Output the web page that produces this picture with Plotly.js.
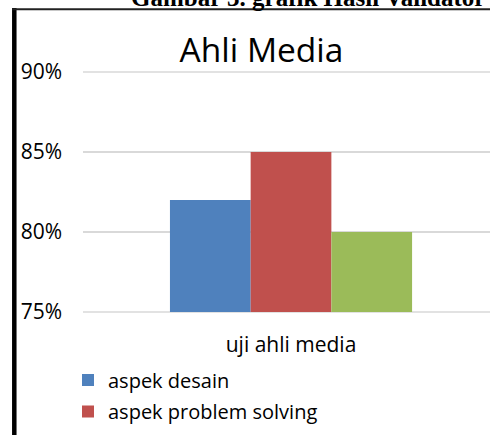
<!DOCTYPE html>
<html>
<head>
<meta charset="utf-8">
<script src="https://cdn.plot.ly/plotly-3.0.1.min.js"></script>
<style>
  html, body { margin: 0; padding: 0; background: #fff; overflow: hidden; }
  #chart { width: 490px; height: 435px; }
</style>
</head>
<body>
<div id="chart"></div>
<script>
// ---- data ----
const categories = ["uji ahli media"];
const seriesNames = ["aspek desain", "aspek problem solving", "aspek kemanfaatan"];
const seriesValues = [[0.82], [0.85], [0.80]];
const seriesColors = ["#4F81BD", "#C0504D", "#9BBB59"];
const yTickVals = [0.75, 0.80, 0.85, 0.90];
const yTickText = ["75%", "80%", "85%", "90%"];
const chartTitle = "Ahli Media";
const captionText = "Gambar 3. grafik Hasil Validator";

const FONT = "Open Sans, Noto Sans, sans-serif";

const traces = seriesNames.map((name, i) => ({
  type: "bar",
  name: name,
  x: categories,
  y: seriesValues[i],
  marker: { color: seriesColors[i], line: { width: 0 } },
  legendgroup: "g" + i,
  hoverinfo: "skip"
}));

const layout = {
  width: 490,
  height: 435,
  margin: { l: 83, r: 0, t: 72, b: 123, pad: 0, autoexpand: false },
  paper_bgcolor: "#ffffff",
  plot_bgcolor: "#ffffff",
  barmode: "group",
  bargap: 0.418,
  bargroupgap: 0,
  font: { family: FONT, color: "#000000", size: 20 },
  title: {
    text: chartTitle,
    font: { family: FONT, size: 33.5, color: "#000000" },
    x: 0.5337, xref: "container", xanchor: "center",
    y: 0.8839, yref: "container", yanchor: "middle"
  },
  xaxis: {
    type: "category",
    range: [-0.5, 0.4783],
    showgrid: false,
    showline: false,
    zeroline: false,
    ticks: "",
    tickfont: { family: FONT, size: 21, color: "#000000" },
    ticklabelstandoff: 18,
    automargin: false,
    fixedrange: true
  },
  yaxis: {
    range: [0.75, 0.90],
    tickvals: yTickVals,
    ticktext: yTickText,
    showgrid: true,
    gridcolor: "#D9D9D9",
    gridwidth: 1.5,
    zeroline: false,
    showline: false,
    ticks: "",
    tickfont: { family: FONT, size: 21, color: "#000000" },
    ticklabelstandoff: 20,
    automargin: false,
    fixedrange: true
  },
  showlegend: true,
  legend: {
    orientation: "v",
    xref: "container", yref: "container",
    x: 68 / 490, xanchor: "left",
    y: 1 - 360.5 / 435, yanchor: "top",
    font: { family: FONT, size: 20, color: "#000000" },
    tracegroupgap: 2.5,
    bgcolor: "rgba(0,0,0,0)",
    borderwidth: 0,
    itemclick: false, itemdoubleclick: false
  },
  annotations: [{
    text: "<b>" + captionText + "</b>",
    xref: "paper", yref: "paper",
    x: (308 - 83) / 407, xanchor: "center",
    y: (312 + 2.6) / 240, yanchor: "middle",
    showarrow: false,
    font: { family: "Liberation Serif, Times New Roman, serif", size: 25, color: "#000000" }
  }],
  shapes: [
    { type: "line", xref: "paper", yref: "paper",
      x0: (14.3 - 83) / 407, x1: (14.3 - 83) / 407,
      y0: (312 - 8) / 240, y1: (312 - 445) / 240,
      line: { color: "#000000", width: 4.5 } },
    { type: "line", xref: "paper", yref: "paper",
      x0: (12 - 83) / 407, x1: 1.05,
      y0: (312 - 9.2) / 240, y1: (312 - 9.2) / 240,
      line: { color: "#222222", width: 2 } },
    { type: "line", xref: "paper", yref: "paper", layer: "below",
      x0: 0, x1: 1.05, y0: 0, y1: 0,
      line: { color: "#D9D9D9", width: 1.5 } },
    { type: "line", xref: "paper", yref: "paper", layer: "below",
      x0: 0, x1: 1.05, y0: 1, y1: 1,
      line: { color: "#D9D9D9", width: 1.5 } }
  ]
};

Plotly.newPlot("chart", traces, layout, { staticPlot: true, displayModeBar: false });
</script>
</body>
</html>
